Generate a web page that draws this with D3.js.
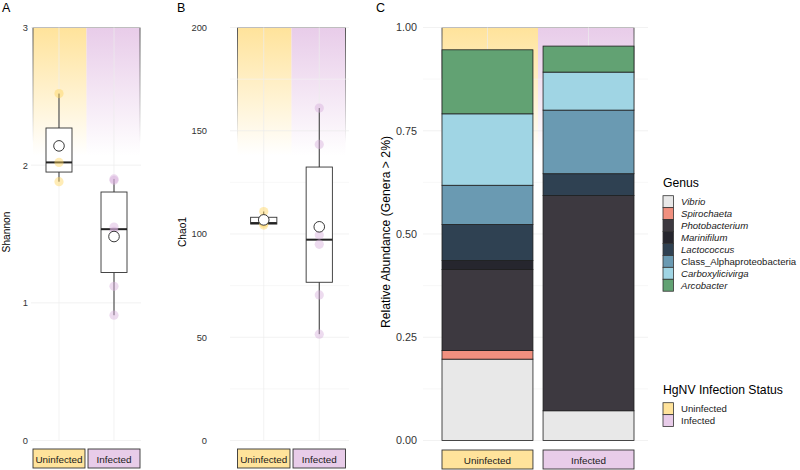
<!DOCTYPE html>
<html>
<head>
<meta charset="utf-8">
<script src="https://cdn.jsdelivr.net/npm/d3@7"></script>
<style>
  body { margin: 0; background: #fff; }
  svg { font-family: "Liberation Sans", Arial, sans-serif; }
</style>
</head>
<body>
<svg width="800" height="470"></svg>
<script>
var svg = d3.select("svg");

// data
var groups = ["Uninfected", "Infected"];
var shannonUninfected = [1.88, 2.02, 2.52];
var shannonInfected = [0.91, 1.12, 1.52, 1.55, 1.89, 1.90];
var chaoUninfected = [104.3, 105.3, 110.9];
var chaoInfected = [51.5, 70.5, 95.0, 99.5, 143.4, 161.0];

var genera = ["Vibrio", "Spirochaeta", "Photobacterium", "Marinifilum", "Lactococcus",
  "Class_Alphaproteobacteria", "Carboxylicivirga", "Arcobacter"];
var abundUninfected = [0.197, 0.021, 0.196, 0.022, 0.087, 0.095, 0.173, 0.155];
var abundInfected = [0.072, 0.000, 0.521, 0.000, 0.053, 0.154, 0.092, 0.063];
var italicGenus = [true, true, true, true, true, false, true, true];

var genusColors = ["#e8e8e8", "#f0907f", "#3d3940", "#26262e", "#2f4152", "#6a9ab2", "#a0d5e4", "#62a273"];
var groupColors = ["#ffe39b", "#e8cce9"];
var pointColors = ["#ffd45e", "#d6afdc"];

var yTop = 27.5, yBot = 440.5;

// gradients for the faded group backgrounds
var defs = svg.append("defs");
groupColors.forEach(function(c, i) {
  var g = defs.append("linearGradient").attr("id", "fade" + i)
    .attr("x1", 0).attr("y1", 0).attr("x2", 0).attr("y2", 1);
  g.append("stop").attr("offset", 0).attr("stop-color", c).attr("stop-opacity", 1);
  g.append("stop").attr("offset", 0.31).attr("stop-color", c).attr("stop-opacity", 0);
});
var sg = defs.append("linearGradient").attr("id", "fadeStroke")
  .attr("x1", 0).attr("y1", 0).attr("x2", 0).attr("y2", 1);
sg.append("stop").attr("offset", 0).attr("stop-color", "#555").attr("stop-opacity", 1);
sg.append("stop").attr("offset", 0.28).attr("stop-color", "#555").attr("stop-opacity", 0);

function gridlines(g, y, ticks, minor, x0, x1, xs) {
  g.selectAll(".minor").data(minor).enter().append("line")
    .attr("x1", x0).attr("x2", x1)
    .attr("y1", function(d) { return y(d); }).attr("y2", function(d) { return y(d); })
    .attr("stroke", "#f4f4f4").attr("stroke-width", 0.6);
  g.selectAll(".major").data(ticks).enter().append("line")
    .attr("x1", x0).attr("x2", x1)
    .attr("y1", function(d) { return y(d); }).attr("y2", function(d) { return y(d); })
    .attr("stroke", "#ececec").attr("stroke-width", 0.7);
  g.selectAll(".vert").data(groups).enter().append("line")
    .attr("x1", function(d) { return xs(d) + xs.bandwidth() / 2; })
    .attr("x2", function(d) { return xs(d) + xs.bandwidth() / 2; })
    .attr("y1", yTop).attr("y2", yBot)
    .attr("stroke", "#ececec").attr("stroke-width", 0.7);
}

function groupBackground(g, xs) {
  var r = xs.range();
  var mid = (r[0] + r[1]) / 2;
  g.append("rect").attr("x", r[0]).attr("y", yTop).attr("width", mid - r[0]).attr("height", yBot - yTop)
    .attr("fill", "url(#fade0)");
  g.append("rect").attr("x", mid).attr("y", yTop).attr("width", r[1] - mid).attr("height", yBot - yTop)
    .attr("fill", "url(#fade1)");
  g.append("rect").attr("x", r[0]).attr("y", yTop).attr("width", r[1] - r[0]).attr("height", yBot - yTop)
    .attr("fill", "none").attr("stroke", "url(#fadeStroke)").attr("stroke-width", 1);
}

function strips(g, xs, y0) {
  var s = g.selectAll(".strip").data(groups).enter().append("g");
  s.append("rect")
    .attr("x", function(d) { return xs(d); }).attr("y", y0)
    .attr("width", xs.bandwidth()).attr("height", 19)
    .attr("fill", function(d, i) { return groupColors[i]; })
    .attr("stroke", "#333").attr("stroke-width", 0.9);
  s.append("text")
    .attr("x", function(d) { return xs(d) + xs.bandwidth() / 2; })
    .attr("y", y0 + 13.6)
    .attr("text-anchor", "middle").attr("font-size", 9.9).attr("fill", "#1a1a1a")
    .text(function(d) { return d; });
}

function yAxis(g, y, ticks, fmt, xr, fs) {
  var ax = d3.axisLeft(y).tickValues(ticks).tickFormat(fmt).tickSize(0).tickPadding(0);
  var a = g.append("g").attr("transform", "translate(" + xr + ",0)").call(ax);
  a.select(".domain").remove();
  a.selectAll("text").attr("font-size", fs).attr("fill", "#333")
    .attr("font-family", "Liberation Sans, Arial, sans-serif");
}

function boxPanel(opts) {
  var g = svg.append("g");
  var xs = d3.scaleBand().domain(groups).range(opts.range).paddingInner(0.055);
  var y = d3.scaleLinear().domain(opts.domain).range([yBot, yTop]);
  groupBackground(g, xs);
  gridlines(g, y, opts.ticks, opts.minor, opts.grid[0], opts.grid[1], xs);

  opts.values.forEach(function(vals, i) {
    var sorted = vals.slice().sort(d3.ascending);
    var q1 = d3.quantile(sorted, 0.25), med = d3.quantile(sorted, 0.5), q3 = d3.quantile(sorted, 0.75);
    var iqr = q3 - q1;
    var lo = d3.min(sorted.filter(function(v) { return v >= q1 - 1.5 * iqr; }));
    var hi = d3.max(sorted.filter(function(v) { return v <= q3 + 1.5 * iqr; }));
    var cx = xs(groups[i]) + xs.bandwidth() / 2;
    var bw = xs.bandwidth() * 0.5;
    g.append("line").attr("x1", cx).attr("x2", cx).attr("y1", y(hi)).attr("y2", y(lo))
      .attr("stroke", "#333").attr("stroke-width", 1);
    g.append("rect").attr("x", cx - bw / 2).attr("width", bw)
      .attr("y", y(q3)).attr("height", y(q1) - y(q3))
      .attr("fill", "#fff").attr("stroke", "#333").attr("stroke-width", 0.9);
    g.append("line").attr("x1", cx - bw / 2).attr("x2", cx + bw / 2).attr("y1", y(med)).attr("y2", y(med))
      .attr("stroke", "#222").attr("stroke-width", 2);
    g.selectAll(".pt" + i).data(vals).enter().append("circle")
      .attr("cx", cx).attr("cy", function(d) { return y(d); }).attr("r", 4.6)
      .attr("fill", pointColors[i]).attr("fill-opacity", 0.45);
    g.append("circle").attr("cx", cx).attr("cy", y(d3.mean(vals))).attr("r", 5.3)
      .attr("fill", "#fff").attr("stroke", "#222").attr("stroke-width", 0.9);
  });

  yAxis(g, y, opts.ticks, opts.fmt, opts.labelX, 9.3);
  strips(g, xs, 449);
  svg.append("text").attr("transform", "translate(" + opts.titleX + ",232) rotate(-90)")
    .attr("text-anchor", "middle").attr("font-size", 10.2).text(opts.title);
  svg.append("text").attr("x", opts.letterX).attr("y", 12).attr("font-size", 12.5).text(opts.letter);
}

boxPanel({
  range: [33, 140], domain: [0, 3], ticks: [0, 1, 2, 3], minor: [], fmt: d3.format("d"),
  grid: [31, 141], values: [shannonUninfected, shannonInfected],
  labelX: 28, title: "Shannon", titleX: 10, letter: "A", letterX: 2
});

boxPanel({
  range: [237.5, 345.5], domain: [0, 200], ticks: [0, 50, 100, 150, 200], minor: [25, 75, 125, 175],
  fmt: d3.format("d"), grid: [230, 349], values: [chaoUninfected, chaoInfected],
  labelX: 207, title: "Chao1", titleX: 186, letter: "B", letterX: 177
});

// panel C: stacked relative abundance
var gc = svg.append("g");
var xc = d3.scaleBand().domain(groups).range([442, 634]).paddingInner(0.1);
var yc = d3.scaleLinear().domain([0, 1]).range([yBot, yTop]);
groupBackground(gc, xc);
gridlines(gc, yc, [0, 0.25, 0.5, 0.75, 1], [0.125, 0.375, 0.625, 0.875], 423, 648, xc);

var table = groups.map(function(grp, i) {
  var row = { group: grp };
  var src = i === 0 ? abundUninfected : abundInfected;
  genera.forEach(function(gn, j) { row[gn] = src[j]; });
  return row;
});
var stacked = d3.stack().keys(genera)(table);
var genusColor = d3.scaleOrdinal().domain(genera).range(genusColors);

gc.selectAll(".layer").data(stacked).enter().append("g")
  .attr("fill", function(d) { return genusColor(d.key); })
  .selectAll("rect").data(function(d) { return d.filter(function(s) { return s[1] - s[0] > 0; }); })
  .enter().append("rect")
  .attr("x", function(d) { return xc(d.data.group); })
  .attr("width", xc.bandwidth())
  .attr("y", function(d) { return yc(d[1]); })
  .attr("height", function(d) { return yc(d[0]) - yc(d[1]); })
  .attr("stroke", "#1e1e1e").attr("stroke-width", 0.8);

yAxis(gc, yc, [0, 0.25, 0.5, 0.75, 1], d3.format(".2f"), 417, 10.8);
strips(gc, xc, 450);
svg.append("text").attr("transform", "translate(390,232) rotate(-90)")
  .attr("text-anchor", "middle").attr("font-size", 12.2).text("Relative Abundance (Genera > 2%)");
svg.append("text").attr("x", 376).attr("y", 12).attr("font-size", 12.5).text("C");

// legends
var keyH = 11.94;
var lg = svg.append("g").attr("transform", "translate(663,0)");
lg.append("text").attr("x", 0).attr("y", 187).attr("font-size", 12.2).text("Genus");
var items = lg.selectAll(".gitem").data(genera).enter().append("g")
  .attr("transform", function(d, i) { return "translate(0," + (195.7 + i * keyH) + ")"; });
items.append("rect").attr("width", 10.5).attr("height", keyH)
  .attr("fill", function(d) { return genusColor(d); }).attr("stroke", "#333").attr("stroke-width", 0.8);
items.append("text").attr("x", 18).attr("y", keyH / 2 + 3.4).attr("font-size", 9.6)
  .attr("font-style", function(d, i) { return italicGenus[i] ? "italic" : "normal"; })
  .attr("fill", "#1a1a1a")
  .text(function(d) { return d; });

lg.append("text").attr("x", 0).attr("y", 393.5).attr("font-size", 12.2).text("HgNV Infection Status");
var sItems = lg.selectAll(".sitem").data(groups).enter().append("g")
  .attr("transform", function(d, i) { return "translate(0," + (402.7 + i * keyH) + ")"; });
sItems.append("rect").attr("width", 10.5).attr("height", keyH)
  .attr("fill", function(d, i) { return groupColors[i]; }).attr("stroke", "#333").attr("stroke-width", 0.8);
sItems.append("text").attr("x", 18).attr("y", keyH / 2 + 3.4).attr("font-size", 9.6)
  .attr("fill", "#1a1a1a").text(function(d) { return d; });
</script>
</body>
</html>
